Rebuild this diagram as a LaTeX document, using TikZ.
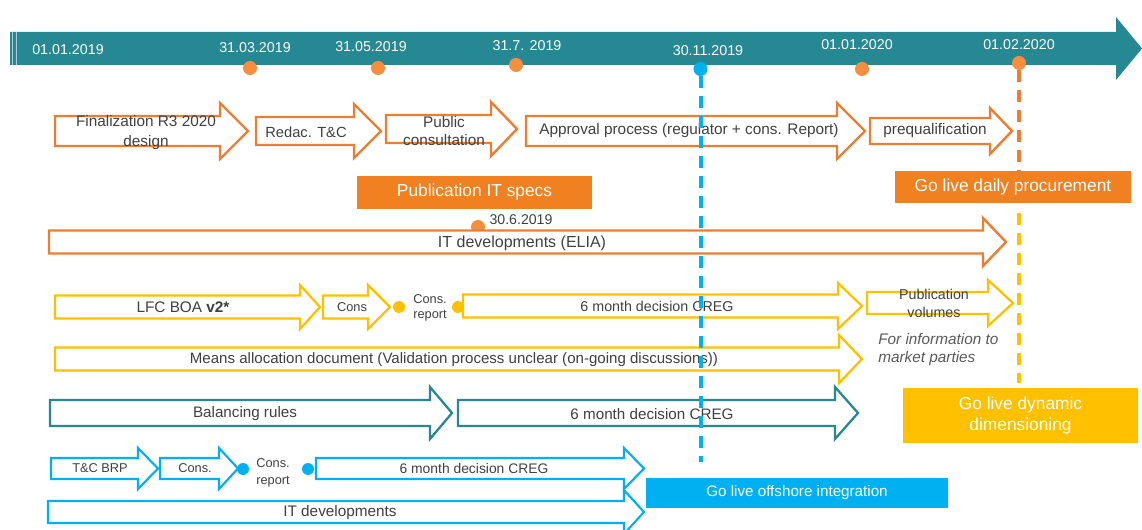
\documentclass[tikz,border=0pt]{standalone}
\usepackage{fontspec}
\setmainfont{Liberation Sans}
\definecolor{bandteal}{RGB}{37,136,147}
\definecolor{eorange}{RGB}{237,125,49}
\definecolor{forange}{RGB}{240,128,32}
\definecolor{dorange}{RGB}{245,142,62}
\definecolor{eyellow}{RGB}{255,192,0}
\definecolor{eblue}{RGB}{0,176,240}
\definecolor{tgray}{RGB}{64,64,64}
\definecolor{igray}{RGB}{89,89,89}
\newcommand\blockarr[7]{\filldraw[#1] (#2,#5-#6) -- (#4,#5-#6) -- (#4,#5-#7) -- (#3,#5) -- (#4,#5+#7) -- (#4,#5+#6) -- (#2,#5+#6) -- cycle;}
\begin{document}
\begin{tikzpicture}[x=0.75pt,y=-0.75pt,
  lbl/.style={text=tgray, inner sep=0, align=center, font=\fontsize{11.5}{15}\selectfont},
  smalllbl/.style={text=tgray, inner sep=0, align=center, font=\fontsize{9.6}{12}\selectfont},
  datelbl/.style={text=white, inner sep=0, font=\fontsize{10.7}{12}\selectfont},
  oarr/.style={draw=eorange, fill=white, line width=1.8pt, line join=miter},
  yarr/.style={draw=eyellow, fill=white, line width=1.7pt, line join=miter},
  tarr/.style={draw=bandteal, fill=white, line width=1.7pt, line join=miter},
  barr/.style={draw=eblue, fill=white, line width=1.6pt, line join=miter},
  dot/.style={circle, inner sep=0, minimum size=10.5pt},
  sdot/.style={circle, inner sep=0, minimum size=9pt},
  gobox/.style={text=white, inner sep=0, align=center, font=\fontsize{13}{15.75}\selectfont},
  vdash/.style={line width=3pt, dash pattern=on 9pt off 6pt}]
\useasboundingbox (0,0) rectangle (1142,530);
\clip (0,0) rectangle (1142,530);
% timeline band
\fill[bandteal] (10,32) -- (1116,32) -- (1116,17) -- (1142,48.5) -- (1116,80) -- (1116,65) -- (10,65) -- cycle;
\draw[white, opacity=0.6, line width=0.6pt] (12.7,32) -- (12.7,65) (16,32) -- (16,65);
% dates
\node[datelbl] (t1) at (68,50) {01.01.2019};
\node[datelbl] (t2) at (255,48) {31.03.2019};
\node[datelbl] (t3) at (371,47) {31.05.2019};
\node[datelbl] (t4) at (527,46) {31.7. 2019};
\node[datelbl] (t5) at (708,51) {30.11.2019};
\node[datelbl] (t6) at (857,45) {01.01.2020};
\node[datelbl] (t7) at (1019,45) {01.02.2020};
% milestone dots
\node[dot, fill=dorange] (d1) at (250,68) {};
\node[dot, fill=dorange] (d2) at (378,68) {};
\node[dot, fill=dorange] (d3) at (516,65) {};
\node[dot, fill=eblue] (d4) at (700.5,69) {};
\node[dot, fill=dorange] (d5) at (862,69) {};
\node[dot, fill=dorange] (d6) at (1019,63) {};
\node[dot, fill=dorange] (d7) at (478,227) {};
% row 1 (orange)
\blockarr{oarr}{55}{248}{220}{131}{15}{28}
\blockarr{oarr}{256}{381}{354}{131}{14}{27}
\blockarr{oarr}{386}{517}{491}{129}{14}{27}
\blockarr{oarr}{526}{865}{837}{131}{15}{28}
\blockarr{oarr}{870}{1012}{990}{131}{13}{23}
\node[lbl] (a1) at (146,133) {Finalization R3 2020\\design};
\node[lbl, font=\fontsize{11}{13}\selectfont] (a2) at (306,132) {Redac. T\&C};
\node[lbl, font=\fontsize{11.5}{13}\selectfont] (a3) at (444,131) {Public\\consultation};
\node[lbl] (a4) at (689,131) {Approval process (regulator + cons. Report)};
\node[lbl] (a5) at (935,131) {prequalification};
% orange boxes
\node[gobox, fill=forange, minimum width=176.25pt, minimum height=24.75pt] (pubit) at (474.5,192.5) {Publication IT specs};
\node[gobox, fill=forange, minimum width=177pt, minimum height=24pt] (golived) at (1013,187) {Go live daily procurement};
% IT developments (ELIA)
\blockarr{oarr}{49}{1006}{983}{242}{11.5}{24}
\node[lbl, font=\fontsize{12}{14}\selectfont] (elia) at (522,243) {IT developments (ELIA)};
\node[text=tgray, inner sep=0, font=\fontsize{10.6}{12}\selectfont] (d7l) at (521,220) {30.6.2019};
% LFC row (yellow)
\blockarr{yarr}{55}{320}{300}{307}{11.5}{22}
\blockarr{yarr}{323}{390}{368}{307}{11.5}{22}
\node[sdot, fill=eyellow] (y1) at (399,307) {};
\node[sdot, fill=eyellow] (y2) at (458,307) {};
\blockarr{yarr}{463}{862}{838}{306}{11.5}{23}
\blockarr{yarr}{867}{1013}{988}{303}{11}{23}
\node[lbl] (l1) at (183,307) {LFC BOA \textbf{v2*}};
\node[smalllbl] (l2) at (352,307) {Cons};
\node[smalllbl, font=\fontsize{9.6}{11.25}\selectfont] (l3) at (430,307.5) {Cons.\\report};
\node[lbl, font=\fontsize{10.7}{13}\selectfont] (l4) at (657,306) {6 month decision CREG};
\node[lbl, font=\fontsize{10.7}{13.5}\selectfont] (l5) at (934,303) {Publication\\volumes};
\node[text=igray, inner sep=0, align=left, anchor=west, font=\fontsize{11.5}{14}\itshape] (info) at (878,349.5) {For information to\\market parties};
% Means allocation
\blockarr{yarr}{55}{862}{839}{359}{11.5}{24}
\node[lbl, font=\fontsize{11.3}{13}\selectfont] (means) at (454,360) {Means allocation document (Validation process unclear (on-going discussions))};
% teal row
\blockarr{tarr}{50}{452}{430}{413}{13}{26}
\blockarr{tarr}{458}{858}{835}{413}{13}{26}
\node[lbl, font=\fontsize{11.4}{13}\selectfont] (bal) at (245,414) {Balancing rules};
\node[lbl, font=\fontsize{11.4}{13}\selectfont] (bal2) at (652,414) {6 month decision CREG};
\node[gobox, fill=eyellow, minimum width=176.25pt, minimum height=41pt] (golivedyn) at (1020.5,415.5) {Go live dynamic\\dimensioning};
% blue row
\blockarr{barr}{51}{158}{138}{468.5}{10.5}{20.5}
\blockarr{barr}{160}{238}{219}{468.5}{10.5}{20.5}
\node[sdot, fill=eblue] (b1) at (243,469) {};
\node[sdot, fill=eblue] (b2) at (308,469) {};
\blockarr{barr}{316}{644}{624}{468.5}{10.5}{20.5}
\blockarr{barr}{48}{644}{624}{512}{11}{22}
\node[smalllbl] (c1) at (100,468) {T\&C BRP};
\node[smalllbl] (c2) at (195,468) {Cons.};
\node[smalllbl, font=\fontsize{9.6}{12.75}\selectfont] (c3) at (273,473) {Cons.\\report};
\node[lbl, font=\fontsize{10.4}{12}\selectfont] (c4) at (474,469) {6 month decision CREG};
\node[lbl, font=\fontsize{11.5}{13}\selectfont] (c5) at (340,513) {IT developments};
\node[gobox, fill=eblue, minimum width=226.5pt, minimum height=22.5pt, font=\fontsize{11.4}{13}\selectfont] (goliveoff) at (797,493) {Go live offshore integration};
% dashed milestone lines
\draw[vdash, eblue] (d4.south) -- (700.5,462);
\draw[vdash, eorange] (d6.south) -- (golived.north -| d6);
\draw[vdash, eyellow] (1019,213) -- (1019,383);
\end{tikzpicture}
\end{document}
